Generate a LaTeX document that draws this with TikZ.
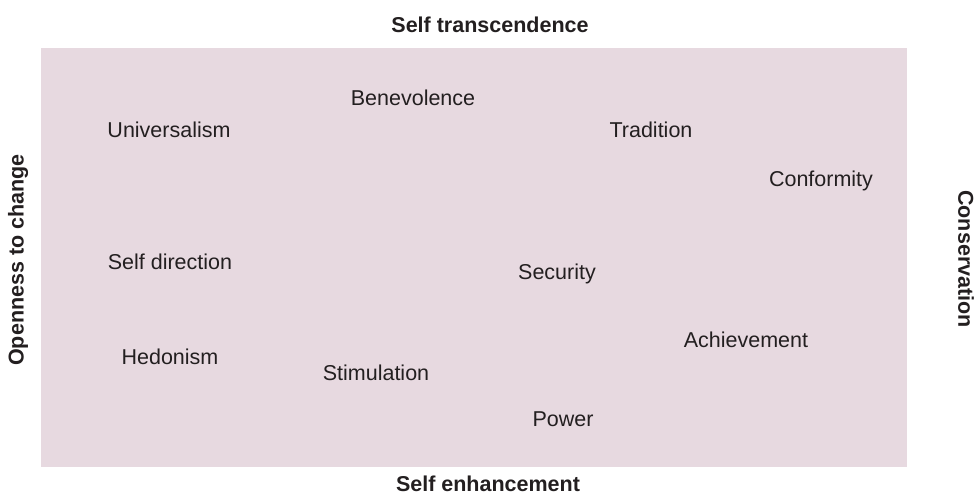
\documentclass[tikz,border=0pt]{standalone}
\usepackage{fontspec}
\setmainfont{Liberation Sans}
\usepackage{tikz}
\definecolor{panel}{HTML}{E7D9E0}
\definecolor{ink}{HTML}{231F20}

\begin{document}
\begin{tikzpicture}[x=1pt, y=-1pt,
  value/.style={text=ink, font=\fontsize{21.5}{25}\selectfont},
  axis/.style={text=ink, font=\bfseries\fontsize{21.5}{25}\selectfont}]
\useasboundingbox (0, 0) rectangle (978, 502);
\fill[panel] (41, 48) rectangle (907, 467);
\node[axis] (top) at (490, 25) {Self transcendence};
\node[axis] (bottom) at (488, 484) {Self enhancement};
\node[axis, rotate=90] (left) at (18, 260) {Openness to change};
\node[axis, rotate=-90] (right) at (966, 259) {Conservation};
\node[value] (univ) at (169, 130) {Universalism};
\node[value] (bene) at (413, 98) {Benevolence};
\node[value] (trad) at (651, 130) {Tradition};
\node[value] (conf) at (821, 181) {Conformity};
\node[value] (selfdir) at (170, 262) {Self direction};
\node[value] (secu) at (557, 274) {Security};
\node[value] (achi) at (746, 340) {Achievement};
\node[value] (hedo) at (170, 357) {Hedonism};
\node[value] (stim) at (376, 373) {Stimulation};
\node[value] (power) at (563, 419) {Power};
\end{tikzpicture}
\end{document}
